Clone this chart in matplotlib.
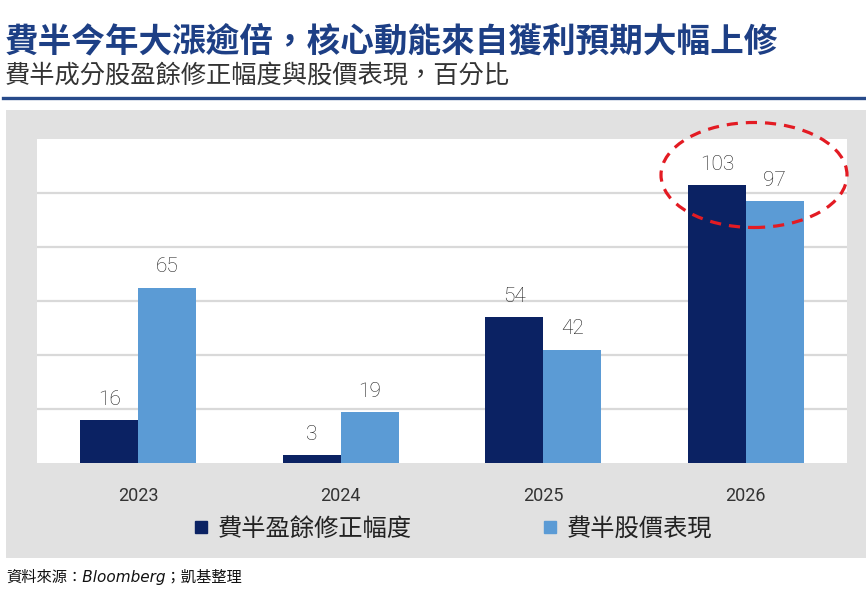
import numpy as np
import matplotlib
matplotlib.use('Agg')
import matplotlib.pyplot as plt
from matplotlib.patches import Rectangle, Ellipse
from matplotlib.lines import Line2D

plt.rcParams['font.family'] = ['Noto Sans CJK TC', 'DejaVu Sans']

# 数据
years = ['2023', '2024', '2025', '2026']
eps_rev = [16, 3, 54, 103]      # 費半盈餘修正幅度
price_perf = [65, 19, 42, 97]   # 費半股價表現
series_names = ['費半盈餘修正幅度', '費半股價表現']

title = '費半今年大漲逾倍，核心動能來自獲利預期大幅上修'
subtitle = '費半成分股盈餘修正幅度與股價表現，百分比'
source = '資料來源：Bloomberg；凱基整理'

dark = '#0b2263'
light = '#5b9bd5'

fig = plt.figure(figsize=(8.66, 6.05), dpi=100)
fig.patch.set_facecolor('white')

# 灰色底板
fig.add_artist(Rectangle((6 / 866, 1 - 558 / 605), 1 - 6 / 866, (558 - 110) / 605,
                         transform=fig.transFigure, facecolor='#e1e1e1',
                         edgecolor='none', zorder=-1))
# 标题下的蓝线
fig.add_artist(Line2D([3 / 866, 1], [1 - 98 / 605, 1 - 98 / 605], transform=fig.transFigure,
                      color='#274a8a', linewidth=2.4))

fig.text(5 / 866, 1 - 42 / 605, title, fontsize=24.2, fontweight='bold',
         color='#1d3f85', va='center', ha='left')
fig.text(5 / 866, 1 - 76 / 605, subtitle, fontsize=18.2, color='#333333',
         va='center', ha='left')
fig.text(6 / 866, 1 - 577 / 605, source, fontsize=11, color='#111111',
         style='italic', va='center', ha='left',
         family=['DejaVu Sans', 'Noto Sans CJK TC'])

ax = fig.add_axes([37 / 866, 1 - 463 / 605, (847 - 37) / 866, (463 - 139) / 605])
ax.set_facecolor('white')

x = np.arange(len(years))
w = 0.286
b1 = ax.bar(x - w / 2, eps_rev, w, color=dark, zorder=3)
b2 = ax.bar(x + w / 2, price_perf, w, color=light, zorder=3)
for bars in (b1, b2):
    ax.bar_label(bars, padding=8, fontsize=15, color='#1e1e1e', fontweight='light',
                 family=['Roboto', 'DejaVu Sans'])

ax.set_xlim(-0.5, 3.5)
ax.set_ylim(0, 120)
ax.set_yticks([20, 40, 60, 80, 100])
ax.set_yticklabels([])
ax.grid(axis='y', color='#d9d9d9', linewidth=1.6, zorder=0)
ax.set_axisbelow(True)
ax.set_xticks(x)
ax.set_xticklabels(years, fontsize=13, color='#333333', family=['Roboto', 'DejaVu Sans'])
ax.tick_params(axis='both', length=0)
ax.tick_params(axis='x', pad=17)
for s in ax.spines.values():
    s.set_visible(False)

# 图例
handles = [Line2D([], [], marker='s', linestyle='none', markersize=9, color=c) for c in (dark, light)]
fig.legend(handles, series_names, loc='center', bbox_to_anchor=(453 / 866, 1 - 529 / 605),
           ncol=2, frameon=False, fontsize=17.5, handlelength=0.6, handletextpad=0.4,
           columnspacing=5.4, labelcolor='#222222')

# 红色虚线椭圆
fig.add_artist(Ellipse((754 / 866, 1 - 175 / 605), 186 / 866, 105 / 605,
                       transform=fig.transFigure, fill=False, edgecolor='#e31b23',
                       linewidth=2.3, linestyle=(0, (3.5, 2.5)), zorder=5))

plt.savefig('out.png', dpi=100)
